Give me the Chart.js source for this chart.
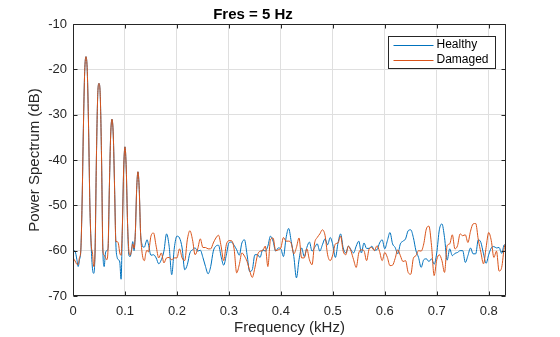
<!DOCTYPE html>
<html>
<head>
<meta charset="utf-8">
<script src="https://cdn.jsdelivr.net/npm/chart.js@4.4.1/dist/chart.umd.min.js"></script>
<style>
html,body{margin:0;padding:0;background:#fff;}
canvas{display:block;}
</style>
</head>
<body>
<canvas id="c" width="560" height="337"></canvas>
<script>
const chartTitle = 'Fres = 5 Hz';
const xAxisTitle = 'Frequency (kHz)';
const yAxisTitle = 'Power Spectrum (dB)';
const seriesNames = ['Healthy', 'Damaged'];

const freqKHz = [
  0,0.0025,0.005,0.0075,0.01,0.0125,0.015,0.0175,0.02,0.0225,
  0.025,0.0275,0.03,0.0325,0.035,0.0375,0.04,0.0425,0.045,0.0475,
  0.05,0.0525,0.055,0.0575,0.06,0.0625,0.065,0.0675,0.07,0.0725,
  0.075,0.0775,0.08,0.0825,0.085,0.0875,0.09,0.0925,0.095,0.0975,
  0.1,0.1025,0.105,0.1075,0.11,0.1125,0.115,0.1175,0.12,0.1225,
  0.125,0.1275,0.13,0.1325,0.135,0.1375,0.14,0.1425,
  0.145,0.15,0.155,0.16,0.165,0.17,0.175,0.18,0.185,0.19,
  0.195,0.2,0.205,0.21,0.215,0.22,0.225,0.23,0.235,0.24,
  0.245,0.25,0.255,0.26,0.265,0.27,0.275,0.28,0.285,0.29,
  0.295,0.3,0.305,0.31,0.315,0.32,0.325,0.33,0.335,0.34,
  0.345,0.35,0.355,0.36,0.365,0.37,0.375,0.38,0.385,0.39,
  0.395,0.4,0.405,0.41,0.415,0.42,0.425,0.43,0.435,0.44,
  0.445,0.45,0.455,0.46,0.465,0.47,0.475,0.48,0.485,0.49,
  0.495,0.5,0.505,0.51,0.515,0.52,0.525,0.53,0.535,0.54,
  0.545,0.55,0.555,0.56,0.565,0.57,0.575,0.58,0.585,0.59,
  0.595,0.6,0.605,0.61,0.615,0.62,0.625,0.63,0.635,0.64,
  0.645,0.65,0.655,0.66,0.665,0.67,0.675,0.68,0.685,0.69,
  0.695,0.7,0.705,0.71,0.715,0.72,0.725,0.73,0.735,0.74,
  0.745,0.75,0.755,0.76,0.765,0.77,0.775,0.78,0.785,0.79,
  0.795,0.8,0.805,0.81,0.815,0.82,0.825,0.83,0.8333
];

const healthyDb = [
  -60,-60,-60.5,-62,-63.5,-62,-60,-49.5,-33,-20.5,
  -17.2,-20.5,-33,-50,-59,-64,-65,-60,-40,-26,
  -23.1,-26,-40,-60,-63.5,-60.5,-60,-59.5,-46,-34.5,
  -31,-34.5,-46,-58.5,-61.5,-62,-62.5,-66.3,-55,-42,
  -37.1,-42,-54,-61,-61.3,-60,-58,-60,-56,-46.5,
  -42.6,-46.5,-56,-58.5,-59.2,-59.2,-58.3,-57.6,
  -58.5,-61,-60.9,-61.6,-62.9,-62,-60.1,-56.3,-59,-65.3,
  -59.4,-56.8,-57.2,-59.4,-64.2,-63.1,-60.5,-59.8,-59.4,-60.1,
  -59.9,-61.5,-63.5,-65.1,-63.5,-60.1,-59,-58.8,-61.3,-63.2,
  -61,-58.3,-58.1,-58.8,-59.8,-61,-58.3,-57.6,-60.9,-64.6,
  -64.2,-60.9,-60.9,-61.5,-59.8,-60.1,-59,-56.8,-57.9,-60.1,
  -59.4,-59.6,-61.3,-57.2,-55.1,-58,-61.3,-66,-62,-59.4,
  -61.3,-59.3,-58.1,-60.1,-59.3,-58.5,-60.1,-58.7,-57.4,-58.7,
  -57.1,-58.7,-61.5,-58.3,-56.3,-59.4,-60.5,-59,-59.8,-60.5,
  -59,-57.9,-60.5,-58.3,-59.5,-59.5,-59,-59.9,-59.8,-58.3,
  -57.6,-59.6,-57.8,-56,-58.5,-59.3,-60.7,-58.5,-57.9,-57.4,
  -55.6,-55.4,-57.1,-60,-61.5,-63.7,-62,-61.8,-62.4,-61.8,
  -63,-60.5,-55.4,-54.1,-57.1,-62.1,-59.6,-61.1,-60.6,-60.4,
  -60,-60,-62.6,-61.1,-59.4,-60.7,-60.7,-57.6,-58.2,-60.7,
  -62.8,-60.9,-59.4,-59.1,-59.4,-59.3,-60.6,-58.7,-59.1
];

const damagedDb = [
  -61.5,-62,-62.5,-63,-63,-61.5,-60,-49.5,-33,-20.5,
  -17.2,-20.5,-33,-50,-58.5,-60.5,-63.5,-60,-40,-26,
  -23.1,-26,-40,-60,-61,-61.5,-62,-59.5,-46,-34.5,
  -31,-34.5,-46,-58,-58,-58.5,-60.5,-61,-55,-42,
  -37.1,-42,-54,-60,-61,-60,-58.5,-59.5,-56,-46.5,
  -42.6,-46.5,-56,-60,-61.8,-62.2,-60.6,-59.9,
  -60.3,-56.8,-56.1,-59,-61.6,-60.5,-62.7,-61.6,-61.5,-62,
  -61.6,-61.6,-59.6,-61.6,-62.2,-57.6,-55.6,-57.6,-60.9,-59.6,
  -57.4,-59.3,-59.3,-59.6,-59.6,-58.3,-57.2,-56.6,-59,-62.2,
  -58.7,-57.8,-57.8,-59.6,-64.9,-63.1,-60.5,-61.2,-62.4,-64.4,
  -65.9,-63.8,-61,-60.1,-60,-59,-63.5,-57.6,-57.2,-60,
  -59.8,-59.4,-57.1,-57.9,-57.9,-58.4,-60.7,-59.3,-57.2,-61.6,
  -61.6,-59.6,-62,-63.1,-58.3,-57.1,-56.3,-55.4,-56.6,-60.9,
  -62.2,-60.9,-58.5,-58.3,-56.8,-60.1,-60.9,-59,-60.1,-62,
  -63.7,-60.5,-59.8,-60,-62.2,-59.6,-59.3,-60,-58.9,-60.2,
  -62.2,-60.4,-61.5,-63.3,-63.2,-61.7,-59.8,-61.1,-62.4,-62.2,
  -64.8,-65.2,-61.7,-61.1,-60,-60.1,-58.5,-55.2,-54.6,-58.9,
  -65.5,-62,-60.9,-62.2,-64.8,-58.9,-58.5,-56.5,-59.6,-58.9,
  -56.3,-56.7,-56.5,-58.2,-55.7,-54.1,-54,-57.6,-60.4,-62.9,
  -59.3,-56,-57.8,-61.5,-60.1,-64.5,-63.7,-59.3,-58.2
];

const xTickValues = [0, 0.1, 0.2, 0.3, 0.4, 0.5, 0.6, 0.7, 0.8];
const yTickValues = [-70, -60, -50, -40, -30, -20, -10];

const FONT = '"Liberation Sans", Arial, Helvetica, sans-serif';
const AXIS_COLOR = '#262626';
const GRID_COLOR = '#dfdfdf';
const COLORS = ['#0072BD', '#D95319'];

const framePlugin = {
  id: 'frame',
  afterDraw(chart) {
    const ctx = chart.ctx;
    const a = chart.chartArea;
    const xs = chart.scales.x, ys = chart.scales.y;
    ctx.save();
    ctx.strokeStyle = AXIS_COLOR;
    ctx.lineWidth = 1;
    const L = Math.round(a.left) + 0.5, R = Math.round(a.right) - 0.5;
    const T = Math.round(a.top) + 0.5, B = Math.round(a.bottom) - 0.5;
    ctx.beginPath();
    ctx.rect(L, T, R - L, B - T);
    const tl = 4;
    xTickValues.forEach(v => {
      const px = Math.round(xs.getPixelForValue(v)) + 0.5;
      ctx.moveTo(px, B); ctx.lineTo(px, B - tl);
      ctx.moveTo(px, T); ctx.lineTo(px, T + tl);
    });
    yTickValues.forEach(v => {
      const py = Math.round(ys.getPixelForValue(v)) + 0.5;
      ctx.moveTo(L, py); ctx.lineTo(L + tl, py);
      ctx.moveTo(R, py); ctx.lineTo(R - tl, py);
    });
    ctx.stroke();

    // legend box (MATLAB style, inside top-right)
    const bx = 388.5, by = 36.5, bw = 107, bh = 32;
    ctx.fillStyle = '#ffffff';
    ctx.fillRect(bx, by, bw, bh);
    ctx.strokeStyle = AXIS_COLOR;
    ctx.strokeRect(bx, by, bw, bh);
    ctx.font = '12px ' + FONT;
    ctx.textBaseline = 'middle';
    ctx.textAlign = 'left';
    seriesNames.forEach((name, i) => {
      const yy = by + 8.5 + i * 15;
      ctx.strokeStyle = COLORS[i];
      ctx.beginPath();
      ctx.moveTo(bx + 5, Math.round(yy) + 0.5);
      ctx.lineTo(bx + 45, Math.round(yy) + 0.5);
      ctx.stroke();
      ctx.fillStyle = '#000';
      ctx.fillText(name, bx + 48, yy);
    });
    ctx.restore();
  }
};

new Chart(document.getElementById('c').getContext('2d'), {
  type: 'line',
  data: {
    datasets: [
      {
        label: seriesNames[0],
        data: freqKHz.map((f, i) => ({x: f, y: healthyDb[i]})),
        borderColor: COLORS[0], backgroundColor: COLORS[0],
        borderWidth: 1, pointRadius: 0, cubicInterpolationMode: 'monotone', order: 2
      },
      {
        label: seriesNames[1],
        data: freqKHz.map((f, i) => ({x: f, y: damagedDb[i]})),
        borderColor: COLORS[1], backgroundColor: COLORS[1],
        borderWidth: 1, pointRadius: 0, cubicInterpolationMode: 'monotone', order: 1
      }
    ]
  },
  options: {
    responsive: false,
    animation: false,
    devicePixelRatio: 1,
    layout: {padding: {top: 0, right: 54, left: 0, bottom: 0}},
    plugins: {
      legend: {display: false},
      tooltip: {enabled: false},
      title: {
        display: true, text: chartTitle, color: '#000',
        font: {size: 15, weight: 'bold', family: FONT},
        padding: {top: 6, bottom: 0}
      }
    },
    scales: {
      x: {
        type: 'linear', min: 0, max: 0.8333,
        afterBuildTicks: s => { s.ticks = xTickValues.map(v => ({value: v})); },
        afterFit: s => { s.height = 41; },
        grid: {color: GRID_COLOR, drawTicks: false},
        border: {display: false},
        ticks: {
          padding: 8, color: AXIS_COLOR, maxRotation: 0, autoSkip: false,
          font: {size: 13, family: FONT},
          callback: v => String(Number(v.toFixed(1)))
        },
        title: {
          display: true, text: xAxisTitle, color: AXIS_COLOR,
          font: {size: 15, family: FONT}, padding: {top: 0, bottom: 0}
        }
      },
      y: {
        type: 'linear', min: -70, max: -10,
        afterBuildTicks: s => { s.ticks = yTickValues.map(v => ({value: v})); },
        afterFit: s => { s.width = 73; },
        grid: {color: GRID_COLOR, drawTicks: false},
        border: {display: false},
        ticks: {
          padding: 6, color: AXIS_COLOR, autoSkip: false,
          font: {size: 13, family: FONT},
          callback: v => String(v)
        },
        title: {
          display: true, text: yAxisTitle, color: AXIS_COLOR,
          font: {size: 15, family: FONT}, padding: {top: 26, bottom: 0}
        }
      }
    }
  },
  plugins: [framePlugin]
});
</script>
</body>
</html>
